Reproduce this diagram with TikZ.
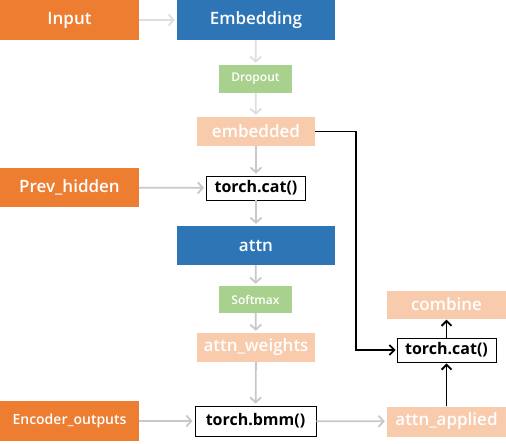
\documentclass[tikz,border=0pt]{standalone}
\usepackage{fontspec}
\setmainfont{Open Sans}[UprightFont={* Semibold}, BoldFont={* Bold}]
\usetikzlibrary{arrows.meta}
\definecolor{inorange}{HTML}{ED7D31}
\definecolor{layerblue}{HTML}{2E75B6}
\definecolor{opgreen}{HTML}{A9D18E}
\definecolor{tensorpeach}{HTML}{F8CBAD}
\definecolor{flowgray}{HTML}{C8C8C8}
\definecolor{flowlight}{HTML}{DEDEDE}
\begin{document}
\begin{tikzpicture}[x=1pt, y=-1pt,
    box/.style={rectangle, inner sep=0pt, text=white},
    inputbox/.style={box, fill=inorange, minimum width=139pt, minimum height=40pt, font=\fontsize{17}{19}\selectfont},
    layerbox/.style={box, fill=layerblue, minimum width=158pt, minimum height=40pt, font=\fontsize{17}{19}\selectfont},
    funcbox/.style={box, fill=opgreen, minimum width=73pt, minimum height=28pt, font=\fontsize{12}{14}\selectfont},
    tensorbox/.style={box, fill=tensorpeach, minimum width=118pt, minimum height=29pt, font=\fontsize{17}{19}\selectfont},
    opbox/.style={box, draw=black, line width=0.9pt, fill=white, text=black, minimum height=24pt, font=\fontsize{16}{18}\selectfont\bfseries},
    flow/.style={->, >={Straight Barb[length=5pt, width=11pt]}, draw=flowgray, line width=1.8pt, shorten >=2pt},
    flowpale/.style={flow, draw=flowlight},
    link/.style={->, >={Straight Barb[length=5pt, width=10pt]}, draw=black, line width=1.8pt, shorten >=1pt}]
        \useasboundingbox (0,0) rectangle (506,444);

        % Nodes
        \node (input) [inputbox] at (69.5, 20) {Input};
        \node (embedding) [layerbox] at (256, 20) {Embedding};
        \node (dropout) [funcbox] at (255.5, 79) {Dropout};
        \node (embedded) [tensorbox] at (256, 131.5) {embedded};
        \node (prevhidden) [inputbox, minimum height=39pt] at (69.5, 187.5) {Prev\_hidden};
        \node (cat1) [opbox, minimum width=99pt] at (256, 188) {torch.cat()};
        \node (attn) [layerbox, minimum height=39pt] at (256, 245.5) {attn};
        \node (softmax) [funcbox, minimum height=27pt] at (255.5, 299.5) {Softmax};
        \node (weights) [tensorbox] at (256, 347.5) {attn\_weights};
        \node (encout) [inputbox, font=\fontsize{14}{16}\selectfont] at (69.5, 421) {Encoder\_outputs};
        \node (bmm) [opbox, minimum width=121pt, minimum height=30pt] at (255.5, 421) {torch.bmm()};
        \node (applied) [tensorbox, minimum width=119pt, minimum height=30pt] at (446.5, 421.5) {attn\_applied};
        \node (cat2) [opbox, minimum width=99pt] at (446.5, 350) {torch.cat()};
        \node (combine) [tensorbox, minimum width=119pt, minimum height=28pt] at (446.5, 304.5) {combine};

        % Edges
        \draw[flowpale] (input) -- (embedding);
        \draw[flowpale] (embedding) -- (dropout);
        \draw[flowpale] (dropout) -- (embedded);
        \draw[flow] (embedded) -- (cat1);
        \draw[flow] (prevhidden) -- (cat1);
        \draw[flow] (cat1) -- (attn);
        \draw[flow] (attn) -- (softmax);
        \draw[flow] (softmax) -- (weights);
        \draw[flow] (weights) -- (bmm);
        \draw[flow] (encout) -- (bmm);
        \draw[flow] (bmm) -- (applied);
        \draw[link] (embedded.east) -- ++(41,0) |- (cat2.west);
        \draw[link] (applied) -- (cat2);
        \draw[link] (cat2) -- (combine);

    \end{tikzpicture}
\end{document}
